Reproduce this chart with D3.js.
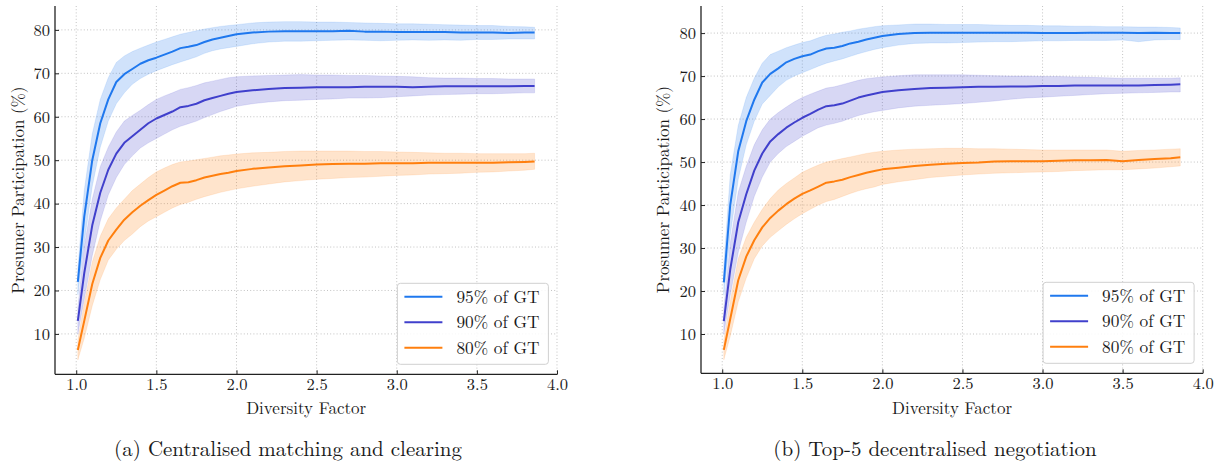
<!DOCTYPE html>
<html>
<head>
<meta charset="utf-8">
<script src="https://cdn.jsdelivr.net/npm/d3@7"></script>
<style>
  html, body { margin: 0; padding: 0; background: #ffffff; }
  svg { display: block; }
</style>
</head>
<body>
<svg id="chart" width="1220" height="471"></svg>
<script>
// ---------------- DATA ----------------
const diversityFactor = [1.01, 1.05, 1.1, 1.15, 1.2, 1.25, 1.3, 1.35, 1.4, 1.45, 1.5, 1.55, 1.6, 1.65, 1.7, 1.75, 1.8, 1.85, 1.9, 1.95, 2.0, 2.1, 2.2, 2.3, 2.4, 2.5, 2.6, 2.7, 2.8, 2.9, 3.0, 3.1, 3.2, 3.3, 3.4, 3.5, 3.6, 3.7, 3.8, 3.86];

const seriesNames = ["95% of GT", "90% of GT", "80% of GT"];
const seriesColors = ["#1f78ee", "#4040cc", "#ff7f0e"];

const xTickValues = [1.0, 1.5, 2.0, 2.5, 3.0, 3.5, 4.0];
const xTickLabels = ["1.0", "1.5", "2.0", "2.5", "3.0", "3.5", "4.0"];
const yTickValues = [10, 20, 30, 40, 50, 60, 70, 80];
const yTickLabels = ["10", "20", "30", "40", "50", "60", "70", "80"];

const panelCaptions = ["(a) Centralised matching and clearing", "(b) Top-5 decentralised negotiation"];
const xAxisTitle = "Diversity Factor";
const yAxisTitle = "Prosumer Participation (%)";

// Panel (a) centralised
const centr95 = [22, 37, 50, 58.5, 64, 68, 69.8, 71, 72.2, 73, 73.6, 74.3, 75, 75.8, 76.1, 76.5, 77.2, 77.8, 78.2, 78.6, 79.0, 79.4, 79.6, 79.7, 79.7, 79.7, 79.7, 79.8, 79.6, 79.6, 79.5, 79.5, 79.5, 79.5, 79.4, 79.4, 79.4, 79.3, 79.4, 79.4];
const centr95Lo = [19, 31, 44, 53, 59, 63, 65.5, 67.5, 68.8, 69.8, 70.6, 71.3, 72, 72.6, 73.2, 73.8, 74.6, 75.2, 75.6, 75.9, 76.2, 76.8, 77.2, 77.4, 77.4, 77.5, 77.6, 77.7, 77.6, 77.5, 77.6, 77.7, 77.6, 77.7, 77.6, 77.8, 77.8, 77.9, 77.9, 77.9];
const centr95Hi = [25, 43, 56, 64, 69, 72.5, 74, 75, 75.8, 76.5, 77.2, 77.8, 78.4, 79, 79.4, 79.8, 80.2, 80.5, 80.8, 81.0, 81.2, 81.6, 81.8, 81.9, 81.9, 81.8, 81.8, 81.7, 81.6, 81.5, 81.4, 81.4, 81.3, 81.2, 81.1, 81.0, 81.0, 80.8, 80.7, 80.6];

const centr90 = [13, 24, 35, 42.5, 47.8, 51.5, 54, 55.5, 57, 58.5, 59.6, 60.4, 61.2, 62.2, 62.5, 63, 63.8, 64.3, 64.8, 65.3, 65.7, 66.1, 66.4, 66.6, 66.7, 66.8, 66.8, 66.8, 66.9, 66.9, 66.9, 66.8, 66.9, 67.0, 67.0, 67.0, 67.0, 67.0, 67.1, 67.1];
const centr90Lo = [10, 18, 28, 36, 42, 46, 49, 51, 52.8, 54, 55, 56, 57, 57.8, 58.4, 59, 59.8, 60.5, 61.2, 61.8, 62.4, 63, 63.4, 63.7, 63.8, 64.0, 64.1, 64.3, 64.3, 64.4, 64.6, 64.8, 65.0, 65.1, 65.2, 65.3, 65.3, 65.4, 65.5, 65.5];
const centr90Hi = [16, 30, 41, 48.5, 53, 56.5, 59, 60.3, 61.5, 62.8, 64, 64.8, 65.5, 66.3, 66.7, 67.2, 67.8, 68.2, 68.6, 69, 69.2, 69.4, 69.5, 69.6, 69.7, 69.6, 69.6, 69.5, 69.5, 69.4, 69.3, 69.2, 69.0, 68.9, 68.9, 68.8, 68.8, 68.7, 68.7, 68.7];

const centr80 = [6.3, 13, 21.5, 27.5, 31.5, 34, 36.3, 38, 39.5, 40.8, 42, 43, 44, 44.8, 44.9, 45.4, 46, 46.4, 46.8, 47.1, 47.5, 48, 48.3, 48.6, 48.8, 49, 49.1, 49.2, 49.2, 49.3, 49.3, 49.3, 49.4, 49.4, 49.4, 49.4, 49.4, 49.5, 49.6, 49.7];
const centr80Lo = [4, 9, 16.5, 22.5, 27, 29.5, 31.5, 33, 34.7, 36, 37, 38, 39, 39.8, 40.3, 41, 41.6, 42.1, 42.6, 43, 43.4, 44.0, 44.5, 45, 45.3, 45.6, 45.8, 46, 46.1, 46.3, 46.5, 46.6, 46.8, 46.9, 47, 47.2, 47.3, 47.5, 47.7, 47.9];
const centr80Hi = [8.5, 17, 26.5, 32.5, 36.5, 39, 41, 43, 44.5, 46, 47.3, 48.2, 49, 49.6, 49.8, 50.1, 50.4, 50.7, 51, 51.2, 51.4, 51.7, 51.8, 52, 52.1, 52.1, 52.1, 52.1, 52, 52, 51.9, 51.8, 51.7, 51.6, 51.6, 51.5, 51.5, 51.5, 51.5, 51.6];

// Panel (b) decentralised top-5
const decen95 = [22, 40, 52.5, 59.5, 64.5, 68.5, 70.5, 71.8, 73.2, 74, 74.6, 75, 75.8, 76.4, 76.6, 77, 77.6, 78, 78.5, 78.9, 79.3, 79.8, 80.0, 80.1, 80.1, 80.1, 80.1, 80.1, 80.1, 80.1, 80.0, 80.0, 80.0, 80.1, 80.1, 80.1, 80.0, 80.1, 80.0, 80.0];
const decen95Lo = [19, 33, 46, 54, 59.5, 63.5, 65.5, 67.5, 69, 70, 70.8, 71.5, 72.3, 73, 73.5, 74, 74.6, 75.2, 75.7, 76.2, 76.6, 77.2, 77.6, 77.7, 77.7, 77.8, 77.9, 78.0, 78.0, 78.1, 78.2, 78.2, 78.3, 78.3, 78.3, 78.4, 78.0, 78.4, 78.5, 78.5];
const decen95Hi = [26, 47, 58.5, 65, 69.5, 73, 75, 75.8, 76.6, 77.2, 77.8, 78.2, 78.9, 79.5, 79.8, 80.2, 80.5, 80.9, 81.2, 81.5, 81.7, 81.9, 82.1, 82.1, 82.0, 82.0, 82.0, 81.9, 81.8, 81.8, 81.7, 81.7, 81.6, 81.6, 81.5, 81.5, 81.4, 81.4, 81.3, 81.2];

const decen90 = [13, 25, 36, 42.5, 48, 52, 54.8, 56.5, 58, 59.2, 60.3, 61.2, 62.2, 63, 63.2, 63.6, 64.3, 65, 65.5, 65.9, 66.3, 66.7, 67.0, 67.2, 67.3, 67.4, 67.5, 67.5, 67.6, 67.6, 67.7, 67.7, 67.8, 67.8, 67.8, 67.8, 67.8, 67.9, 68.0, 68.1];
const decen90Lo = [10, 19, 29, 36, 42, 46.5, 50, 52, 53.6, 54.8, 56, 57, 58, 58.6, 59, 59.5, 60.2, 60.8, 61.3, 61.7, 62, 62.6, 63, 63.2, 63.4, 63.6, 63.9, 64.2, 64.6, 64.9, 65.1, 65.3, 65.5, 65.7, 65.9, 66.0, 66.1, 66.2, 66.3, 66.3];
const decen90Hi = [16, 31, 43, 49, 54, 57.5, 60, 61.5, 62.8, 64, 65, 65.8, 66.5, 67.2, 67.5, 68, 68.5, 69, 69.4, 69.6, 69.8, 70.1, 70.3, 70.3, 70.3, 70.3, 70.2, 70.1, 70.0, 70.0, 69.9, 69.9, 69.8, 69.7, 69.6, 69.5, 69.5, 69.5, 69.5, 69.6];

const decen80 = [6.3, 13.5, 22.5, 28, 31.8, 34.8, 37, 38.7, 40.2, 41.5, 42.6, 43.4, 44.3, 45.2, 45.5, 45.9, 46.5, 47, 47.5, 47.9, 48.3, 48.7, 49.1, 49.4, 49.6, 49.8, 49.9, 50.1, 50.2, 50.2, 50.2, 50.3, 50.4, 50.4, 50.5, 50.2, 50.5, 50.7, 50.9, 51.1];
const decen80Lo = [4, 9.5, 17.5, 23, 27.5, 30.5, 32.5, 34, 35.5, 36.8, 38, 39, 40, 40.8, 41.3, 42, 42.7, 43.3, 43.8, 44.2, 44.8, 45.4, 45.9, 46.4, 46.7, 47, 47.2, 47.4, 47.5, 47.6, 47.7, 47.8, 48, 48.1, 48.2, 48.2, 48.4, 48.6, 48.9, 49.1];
const decen80Hi = [8.5, 17.5, 27.5, 32.5, 36, 39, 41.5, 43.5, 45, 46.3, 47.6, 48.5, 49.3, 50, 50.4, 50.8, 51.2, 51.6, 52, 52.3, 52.5, 52.8, 53, 53.1, 53.2, 53.2, 53.1, 53.1, 53, 52.9, 52.8, 52.8, 52.8, 52.8, 52.8, 52.5, 52.7, 52.8, 53, 53.1];

// ---------------- LAYOUT ----------------
const FONT = '"Latin Modern Roman", "Liberation Serif", serif';
const TXT = "#1a1a1a";
const svg = d3.select("#chart");
svg.append("rect").attr("width", 1220).attr("height", 471).attr("fill", "#ffffff");

function styledText(sel, size) {
  return sel.style("font-family", FONT).style("font-size", size + "px").style("fill", TXT);
}

const panels = [
  {
    caption: panelCaptions[0], captionX: 288,
    xRange: [55, 557.4], yRange: [374.3, 6], yDomain: [0.7, 85.5],
    ylabelX: 23.5,
    series: [
      { mean: centr95, lo: centr95Lo, hi: centr95Hi },
      { mean: centr90, lo: centr90Lo, hi: centr90Hi },
      { mean: centr80, lo: centr80Lo, hi: centr80Hi }
    ]
  },
  {
    caption: panelCaptions[1], captionX: 935,
    xRange: [701, 1203.1], yRange: [373.3, 6], yDomain: [0.86, 86.3],
    ylabelX: 669,
    series: [
      { mean: decen95, lo: decen95Lo, hi: decen95Hi },
      { mean: decen90, lo: decen90Lo, hi: decen90Hi },
      { mean: decen80, lo: decen80Lo, hi: decen80Hi }
    ]
  }
];

const xDomain = [0.8675, 4.0025];

panels.forEach(p => {
  const x = d3.scaleLinear().domain(xDomain).range(p.xRange);
  const y = d3.scaleLinear().domain(p.yDomain).range(p.yRange);
  const g = svg.append("g");
  const [x0, x1] = p.xRange;
  const [yb, yt] = p.yRange;

  // grid
  const grid = g.append("g").attr("stroke", "#b4b4b4").attr("stroke-width", 0.8)
    .attr("stroke-dasharray", "1,2.2");
  xTickValues.forEach(v => {
    grid.append("line").attr("x1", x(v)).attr("x2", x(v)).attr("y1", yt).attr("y2", yb);
  });
  yTickValues.forEach(v => {
    grid.append("line").attr("x1", x0).attr("x2", x1).attr("y1", y(v)).attr("y2", y(v));
  });

  // bands
  p.series.forEach((s, i) => {
    const area = d3.area()
      .x((d, j) => x(diversityFactor[j]))
      .y0((d, j) => y(s.lo[j]))
      .y1((d, j) => y(s.hi[j]));
    g.append("path").datum(s.mean).attr("d", area)
      .attr("fill", seriesColors[i]).attr("fill-opacity", 0.21)
      .attr("stroke", seriesColors[i]).attr("stroke-opacity", 0.12).attr("stroke-width", 1);
  });
  // lines
  p.series.forEach((s, i) => {
    const line = d3.line().x((d, j) => x(diversityFactor[j])).y(d => y(d));
    g.append("path").datum(s.mean).attr("d", line)
      .attr("fill", "none").attr("stroke", seriesColors[i]).attr("stroke-width", 2)
      .attr("stroke-linejoin", "round");
  });

  // axes (left & bottom, ticks inward)
  const xAxis = d3.axisBottom(x).tickValues(xTickValues)
    .tickFormat((d, i) => xTickLabels[i]).tickSizeInner(-4).tickSizeOuter(0).tickPadding(4);
  const yAxis = d3.axisLeft(y).tickValues(yTickValues)
    .tickFormat((d, i) => yTickLabels[i]).tickSizeInner(-4).tickSizeOuter(0).tickPadding(5);

  const gx = g.append("g").attr("transform", `translate(0,${yb})`).call(xAxis);
  const gy = g.append("g").attr("transform", `translate(${x0},0)`).call(yAxis);
  [gx, gy].forEach(ax => {
    ax.select(".domain").remove();
    ax.selectAll(".tick line").attr("stroke", "#222").attr("stroke-width", 1);
    styledText(ax.selectAll(".tick text"), 16.5);
  });
  // spines
  g.append("line").attr("x1", x0).attr("x2", x0).attr("y1", yt).attr("y2", yb)
    .attr("stroke", "#222").attr("stroke-width", 1.3);
  g.append("line").attr("x1", x0).attr("x2", x1).attr("y1", yb).attr("y2", yb)
    .attr("stroke", "#222").attr("stroke-width", 1.3);

  // axis titles
  styledText(g.append("text").attr("x", (x0 + x1) / 2).attr("y", 413.5)
    .attr("text-anchor", "middle").text(xAxisTitle), 17);
  styledText(g.append("text").attr("transform", `translate(${p.ylabelX},${(yt + yb) / 2}) rotate(-90)`)
    .attr("text-anchor", "middle").text(yAxisTitle), 17);

  // legend (lower right)
  const lgW = 151, lgH = 81;
  const lgX = x1 - 9 - lgW, lgY = yb - 10 - lgH;
  const lg = g.append("g").attr("transform", `translate(${lgX},${lgY})`);
  lg.append("rect").attr("width", lgW).attr("height", lgH).attr("rx", 3).attr("ry", 3)
    .attr("fill", "#ffffff").attr("fill-opacity", 0.85)
    .attr("stroke", "#d0d0d0").attr("stroke-width", 1);
  seriesNames.forEach((name, i) => {
    const cy = 13.5 + i * 25.5;
    lg.append("line").attr("x1", 7).attr("x2", 45).attr("y1", cy).attr("y2", cy)
      .attr("stroke", seriesColors[i]).attr("stroke-width", 2);
    styledText(lg.append("text").attr("x", 59).attr("y", cy + 6).text(name), 17.3);
  });

  // caption
  styledText(svg.append("text").attr("x", p.captionX).attr("y", 456).attr("text-anchor", "middle")
    .text(p.caption), 21);
});
</script>
</body>
</html>
